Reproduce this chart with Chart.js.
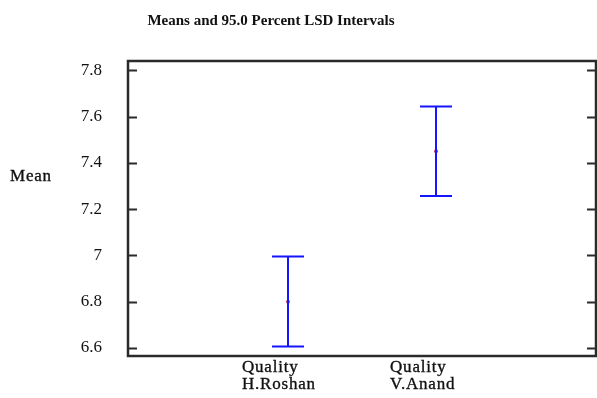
<!DOCTYPE html>
<html>
<head>
<meta charset="utf-8">
<script src="https://cdn.jsdelivr.net/npm/chart.js@4"></script>
<style>
  html, body { margin: 0; padding: 0; background: #fff; }
  #wrap { width: 597px; height: 398px; }
</style>
</head>
<body>
<div id="wrap"><canvas id="chart" width="597" height="398"></canvas></div>
<script>
// groups and their LSD intervals
const groups = [["Quality", "H.Roshan"], ["Quality", "V.Anand"]];
const groupX = [1, 2];
const means = [6.80, 7.45];
const lower = [6.606, 7.256];
const upper = [6.995, 7.643];
const yTicks = [6.6, 6.8, 7.0, 7.2, 7.4, 7.6, 7.8];

const txt = "#111";
const serif = "'Liberation Serif', 'Times New Roman', serif";

// one line dataset per interval, caps come from the 'line' point style
const intervalSets = groupX.map((x, i) => ({
  type: "line",
  data: [{ x: x, y: lower[i] }, { x: x, y: upper[i] }],
  borderColor: "#1515ff",
  borderWidth: 2,
  pointStyle: "line",
  pointRadius: 16,
  pointBorderColor: "#1515ff",
  pointBorderWidth: 2,
  pointHoverRadius: 16
}));

const frame = {
  id: "frame",
  afterDraw(chart) {
    const ctx = chart.ctx;
    const a = chart.chartArea;
    const y = chart.scales.y;
    const x = chart.scales.x;
    ctx.save();
    ctx.strokeStyle = "#2a2a2a";
    ctx.lineWidth = 2.5;
    ctx.strokeRect(a.left, a.top, a.right - a.left, a.bottom - a.top);
    ctx.lineWidth = 2;
    yTicks.forEach(v => {
      const py = Math.round(y.getPixelForValue(v)) + 0.5;
      ctx.beginPath();
      ctx.moveTo(a.left, py); ctx.lineTo(a.left + 9, py);
      ctx.moveTo(a.right, py); ctx.lineTo(a.right - 9, py);
      ctx.stroke();
    });

    ctx.fillStyle = txt;
    ctx.strokeStyle = txt;
    ctx.lineWidth = 0.35;
    ctx.textBaseline = "middle";
    if ("letterSpacing" in ctx) ctx.letterSpacing = "0.8px";

    // category labels under the frame
    ctx.font = "17px " + serif;
    ctx.textAlign = "left";
    groups.forEach((g, i) => {
      const px = x.getPixelForValue(groupX[i]) - 46;
      ctx.fillText(g[0], px, 368);
      ctx.strokeText(g[0], px, 368);
      ctx.fillText(g[1], px, 385);
      ctx.strokeText(g[1], px, 385);
    });

    // axis name
    ctx.fillText("Mean", 10, 177);
    ctx.strokeText("Mean", 10, 177);

    // title
    ctx.font = "bold 15px " + serif;
    if ("letterSpacing" in ctx) ctx.letterSpacing = "0px";
    ctx.textAlign = "center";
    ctx.fillText("Means and 95.0 Percent LSD Intervals", 271, 21);
    ctx.restore();
  }
};

new Chart(document.getElementById("chart"), {
  type: "scatter",
  data: {
    datasets: [
      ...intervalSets,
      {
        type: "scatter",
        data: groupX.map((x, i) => ({ x: x, y: means[i] })),
        pointStyle: "circle",
        pointRadius: 2,
        backgroundColor: "#c0407a",
        borderColor: "#c0407a",
        borderWidth: 0
      }
    ]
  },
  options: {
    responsive: false,
    animation: false,
    layout: { autoPadding: false, padding: { left: 0, top: 61, right: 1, bottom: 42 } },
    plugins: { legend: { display: false }, tooltip: { enabled: false }, title: { display: false } },
    scales: {
      x: {
        type: "linear",
        min: -0.081,
        max: 3.081,
        display: false
      },
      y: {
        type: "linear",
        min: 6.565,
        max: 7.84,
        grid: { display: false, drawTicks: false },
        border: { display: false },
        afterBuildTicks: s => { s.ticks = yTicks.map(v => ({ value: v })); },
        afterFit: s => { s.width = 128; },
        ticks: {
          padding: 26,
          color: txt,
          font: { family: serif, size: 17 },
          callback: v => String(+v.toFixed(1))
        }
      }
    }
  },
  plugins: [frame]
});
</script>
</body>
</html>
